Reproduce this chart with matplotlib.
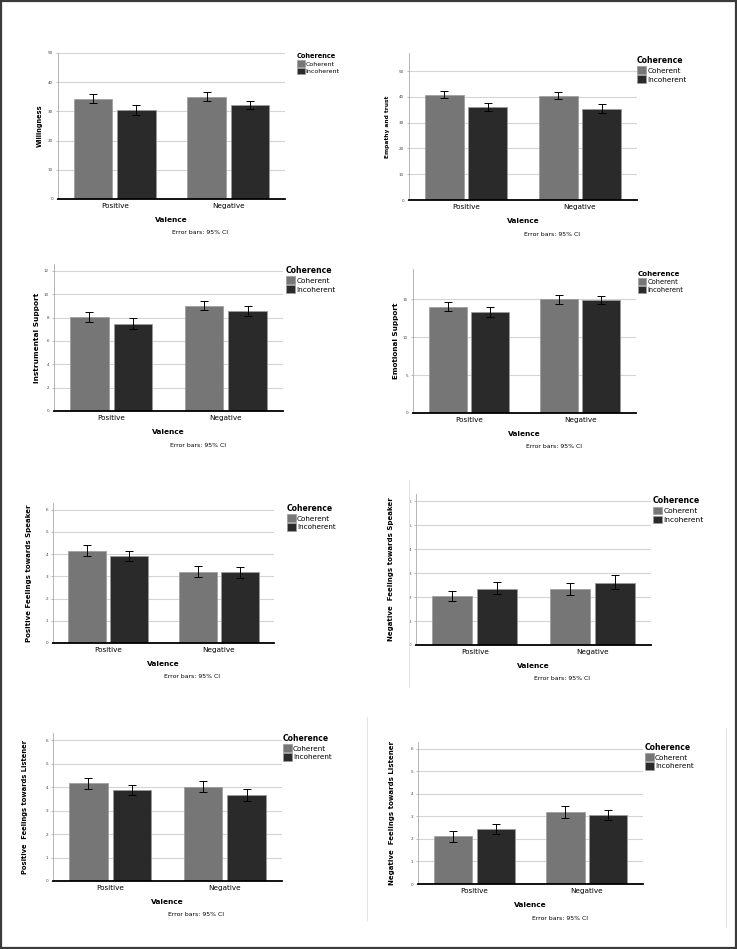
import matplotlib
matplotlib.use("Agg")
import matplotlib.pyplot as plt
from matplotlib.patches import Rectangle
from matplotlib.lines import Line2D
import numpy as np

# categories
valence = ["Positive", "Negative"]
coherence = ["Coherent", "Incoherent"]

# rows: Coherent, Incoherent / cols: Positive, Negative
willingness_mean = [[34.3, 35.1], [30.5, 32.2]]
willingness_lo = [[32.8, 33.6], [28.8, 30.7]]
willingness_hi = [[35.9, 36.5], [32.3, 33.7]]

empathy_mean = [[40.7, 40.3], [35.9, 35.4]]
empathy_lo = [[39.5, 39.0], [34.4, 33.9]]
empathy_hi = [[42.1, 41.9], [37.6, 37.1]]

instrumental_mean = [[8.06, 9.03], [7.46, 8.60]]
instrumental_lo = [[7.66, 8.63], [7.00, 8.17]]
instrumental_hi = [[8.49, 9.46], [8.00, 9.03]]

emotional_mean = [[14.04, 15.00], [13.38, 14.91]]
emotional_lo = [[13.46, 14.39], [12.68, 14.34]]
emotional_hi = [[14.60, 15.53], [14.04, 15.48]]

pos_speaker_mean = [[4.14, 3.21], [3.91, 3.18]]
pos_speaker_lo = [[3.90, 2.95], [3.69, 2.94]]
pos_speaker_hi = [[4.39, 3.45], [4.14, 3.43]]

neg_speaker_mean = [[2.06, 2.34], [2.35, 2.60]]
neg_speaker_lo = [[1.83, 2.08], [2.11, 2.35]]
neg_speaker_hi = [[2.27, 2.60], [2.62, 2.90]]

pos_listener_mean = [[4.17, 4.01], [3.87, 3.65]]
pos_listener_lo = [[3.93, 3.80], [3.65, 3.42]]
pos_listener_hi = [[4.40, 4.26], [4.10, 3.90]]

neg_listener_mean = [[2.11, 3.19], [2.45, 3.06]]
neg_listener_lo = [[1.88, 2.94], [2.23, 2.82]]
neg_listener_hi = [[2.35, 3.46], [2.67, 3.29]]

ylabels = ["Willingness", "Empathy and trust", "Instrumental Support", "Emotional Support",
           "Positive Feelings towards Speaker", "Negative  Feelings towards Speaker",
           "Positive  Feelings towards Listener", "Negative  Feelings towards Listener"]
yticks = [np.arange(0, 51, 10), np.arange(0, 51, 10), np.arange(0, 13, 2), np.arange(0, 16, 5),
          np.arange(0, 7), np.arange(0, 7), np.arange(0, 7), np.arange(0, 7)]
ytops = [50, 57, 12.6, 19, 6.3, 6.3, 6.3, 6.3]
means = [willingness_mean, empathy_mean, instrumental_mean, emotional_mean,
         pos_speaker_mean, neg_speaker_mean, pos_listener_mean, neg_listener_mean]
lows = [willingness_lo, empathy_lo, instrumental_lo, emotional_lo,
        pos_speaker_lo, neg_speaker_lo, pos_listener_lo, neg_listener_lo]
highs = [willingness_hi, empathy_hi, instrumental_hi, emotional_hi,
         pos_speaker_hi, neg_speaker_hi, pos_listener_hi, neg_listener_hi]

# layout in pixels: axes (left, top, right, bottom), ylabel offset, legend top-left (x, y), font sizes
W, H = 737, 949
boxes = [(58, 53, 285, 199), (409, 53, 637, 200), (54, 264, 283, 411), (413, 269, 636, 413),
         (53, 503, 274, 643), (416, 494, 651, 645), (53, 733, 282, 881), (418, 742, 643, 884)]
ylab_off = [18, 22, 17, 17, 24, 25, 28, 26]
leg_pos = [(297, 53), (637, 56), (286, 266), (638, 271), (287, 504), (653, 496), (283, 734), (645, 743)]
leg_fs = [4.5, 5.3, 5.3, 4.8, 5.2, 5.4, 5.2, 5.2]
ylab_fs = [4.8, 4.2, 5.3, 5.2, 5.0, 5.0, 4.9, 5.0]

colors = ["#767676", "#2a2a2a"]

fig = plt.figure(figsize=(W / 100, H / 100), dpi=100)


def fx(px):
    return px / W


def fy(py):
    return 1 - py / H


for i in range(8):
    l, t, r, b = boxes[i]
    ax = fig.add_axes([fx(l), fy(b), fx(r) - fx(l), fy(t) - fy(b)])
    x = np.arange(len(valence))
    for j, name in enumerate(coherence):
        m = np.array(means[i][j])
        lo = np.array(lows[i][j])
        hi = np.array(highs[i][j])
        xs = x + (-0.19 if j == 0 else 0.19)
        ax.bar(xs, m, width=0.34, color=colors[j], edgecolor="#9a9a9a", linewidth=0.5,
               label=name, zorder=2)
        ax.errorbar(xs, m, yerr=[m - lo, hi - m], fmt="none", ecolor="black",
                    elinewidth=0.7, capsize=2.9, capthick=0.7, zorder=3)
    ax.set_xlim(-0.5, 1.5)
    ax.set_ylim(0, ytops[i])
    ax.set_yticks(yticks[i])
    ax.yaxis.grid(True, color="#d4d4d4", linewidth=0.8, zorder=0)
    ax.set_axisbelow(True)
    for s in ["top", "right"]:
        ax.spines[s].set_visible(False)
    ax.spines["left"].set_color("#aaaaaa")
    ax.spines["left"].set_linewidth(0.6)
    ax.spines["bottom"].set_color("black")
    ax.spines["bottom"].set_linewidth(1.3)
    ax.spines["bottom"].set_zorder(4)
    ax.tick_params(axis="y", length=1.5, width=0.4, color="#888888", labelsize=3,
                   labelcolor="#444444", pad=2)
    ax.set_xticks(x)
    ax.set_xticklabels(valence, fontsize=5.2)
    ax.tick_params(axis="x", length=0, pad=3)

    cx = (l + r) / 2
    fig.text(fx(cx), fy(b + 21), "Valence", fontsize=5.3, fontweight="bold", ha="center", va="center")
    fig.text(fx(cx + 29), fy(b + 34), "Error bars: 95% CI", fontsize=4.4, ha="center", va="center")
    fig.text(fx(l - ylab_off[i]), fy((t + b) / 2), ylabels[i], fontsize=ylab_fs[i],
             fontweight="bold", rotation=90, ha="center", va="center")

    lx, ly = leg_pos[i]
    fs = leg_fs[i]
    pad = 0.5 * fs * 100 / 72
    ax.legend(loc="upper left", bbox_to_anchor=(fx(lx - pad), fy(ly - pad)),
              bbox_transform=fig.transFigure, frameon=False, fontsize=fs,
              title="Coherence", title_fontproperties={"weight": "bold", "size": fs + 0.3},
              handlelength=1.25, handleheight=1.2, handletextpad=0.15, labelspacing=0.2,
              borderpad=0.5, borderaxespad=0, alignment="left")

# faint frame lines from the pasted panels
for (x0, y0, x1, y1) in [(409, 480, 409, 687), (367, 717, 367, 920), (726, 728, 726, 927)]:
    fig.add_artist(Line2D([fx(x0), fx(x1)], [fy(y0), fy(y1)], color="#e2e2e2", linewidth=0.7))

# outer border
fig.add_artist(Rectangle((0.001, 0.001), 0.998, 0.998, transform=fig.transFigure,
                         fill=False, edgecolor="#3a3a3a", linewidth=1.6))

fig.savefig("out.png", dpi=100)
